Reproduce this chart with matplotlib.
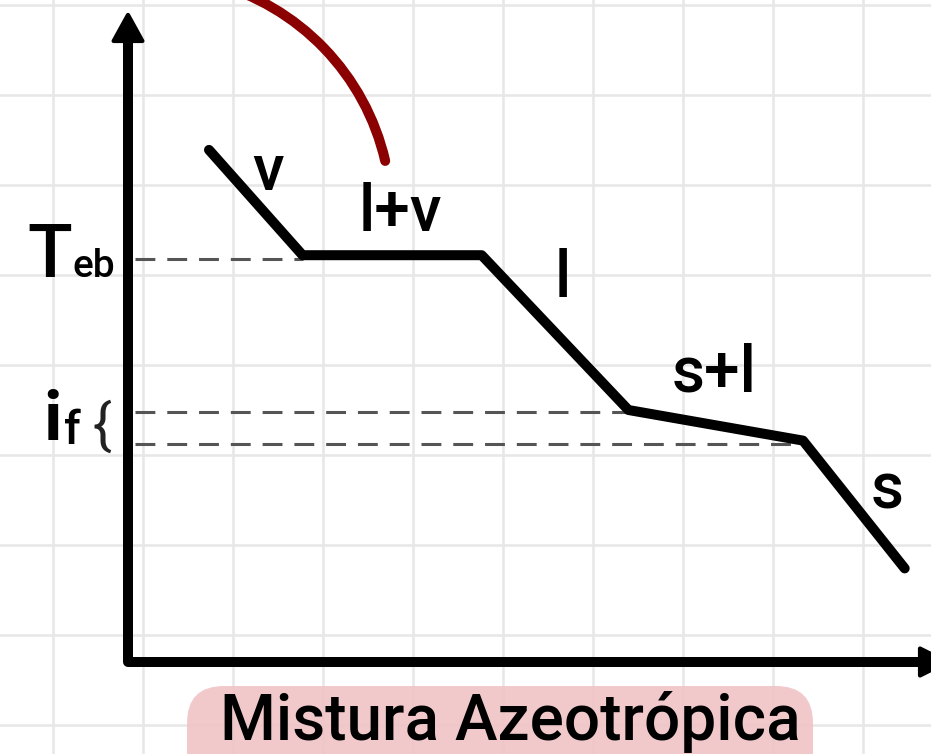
import numpy as np
import matplotlib
matplotlib.use("Agg")
import matplotlib.pyplot as plt
from matplotlib.patches import Arc, Polygon, FancyBboxPatch

plt.rcParams['font.family'] = ['Roboto', 'DejaVu Sans']

# --- data (grid units; origin at the axes corner) ---
time_pts = [0.90, 1.94, 3.93, 5.56, 7.50, 8.63]
temp_pts = [5.69, 4.52, 4.52, 2.80, 2.46, 1.04]
teb_level = 4.48
if_upper = 2.78
if_lower = 2.42
phase_labels = ['v', 'l+v', 'l', 's+l', 's']
label_x = [1.556, 3.022, 4.833, 6.511, 8.433]
label_y = [5.444, 4.989, 4.256, 3.200, 1.911]
title_text = 'Mistura Azeotrópica'

fig = plt.figure(figsize=(9.31, 7.54), dpi=100)
ax = fig.add_axes([0, 0, 1, 1])
ax.set_xlim(-128 / 90, (931 - 128) / 90)
ax.set_ylim((662 - 754) / 90, 662 / 90)
ax.set_aspect('equal')
for s in ax.spines.values():
    s.set_visible(False)

# grid background
ax.set_xticks(np.arange(-0.833, 9.0, 1.0))
ax.set_yticks(np.arange(-0.7, 7.4, 1.0))
ax.tick_params(length=0, labelbottom=False, labelleft=False)
ax.grid(True, color='#e7e7e7', lw=1.8)
ax.set_axisbelow(True)

# axes lines
ax.plot([0, 0, 8.80], [7.0, 0, 0], color='black', lw=7.2,
        solid_joinstyle='round', solid_capstyle='butt', zorder=5)
ax.add_patch(Polygon([[0, 7.19], [-0.16, 6.90], [0.16, 6.90]], closed=True,
                     facecolor='black', edgecolor='black', lw=3,
                     joinstyle='round', zorder=6))
ax.add_patch(Polygon([[8.80, 0.15], [8.80, -0.15], [9.10, 0.0]], closed=True,
                     facecolor='black', edgecolor='black', lw=3,
                     joinstyle='round', zorder=6))

# dashed reference lines
dash = (0, (6.5, 3.9))
ax.plot([0.08, time_pts[1]], [teb_level, teb_level], color='#555555', lw=2.2, ls=dash, zorder=3)
ax.plot([0.08, time_pts[3]], [if_upper, if_upper], color='#555555', lw=2.2, ls=dash, zorder=3)
ax.plot([0.08, time_pts[4]], [if_lower, if_lower], color='#555555', lw=2.2, ls=dash, zorder=3)

# cooling curve
ax.plot(time_pts, temp_pts, color='black', lw=7.2,
        solid_capstyle='round', solid_joinstyle='round', zorder=7)

# red arc
ax.add_patch(Arc((0.256, 4.967), 2 * 2.67, 2 * 2.67, theta1=13, theta2=75,
                 color='#8b0000', lw=7.2, capstyle='round', zorder=4))

# phase labels
for t, x, y in zip(phase_labels, label_x, label_y):
    ax.text(x, y, t, fontsize=46, fontweight='medium', ha='center', va='center',
            color='black', zorder=8)

# Teb label
ax.text(-0.622, 4.278, 'T', fontsize=53, fontweight='medium', ha='right',
        va='baseline', color='black')
ax.text(-0.622, 4.278, 'eb', fontsize=28, fontweight='medium', ha='left',
        va='baseline', color='black')

# if label
ax.text(-0.74, 2.467, 'i', fontsize=50, fontweight='bold', ha='right',
        va='baseline', color='black')
ax.text(-0.71, 2.42, 'f', fontsize=34, fontweight='medium', ha='left',
        va='baseline', color='black')
ax.text(-0.29, 2.61, '{', fontsize=40, fontweight='normal', ha='center',
        va='center', color='#222222')

# title box
box = FancyBboxPatch((0.656 + 0.41, -1.5), 7.611 - 0.656 - 0.82, 0.823,
                     boxstyle='round,pad=0.41,rounding_size=0.41',
                     facecolor='#f0c3c6', edgecolor='none', alpha=0.9, zorder=2)
ax.add_patch(box)
ax.text(4.244, -0.867, title_text, fontsize=46, fontweight='medium',
        ha='center', va='baseline', color='black', zorder=8)

fig.savefig('out.png', dpi=100)
